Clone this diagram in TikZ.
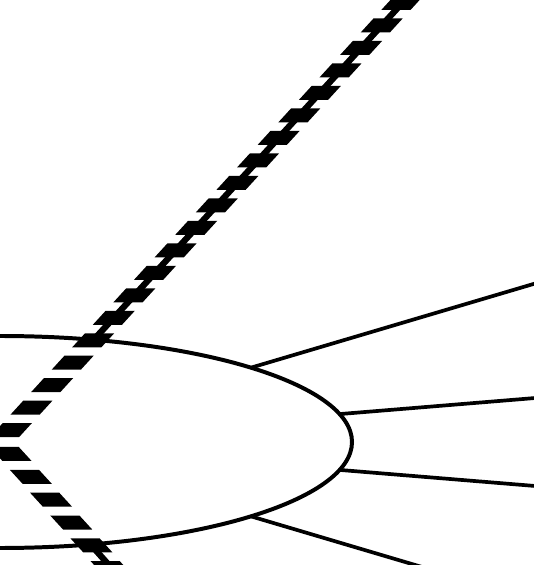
\documentclass[tikz,border=0pt]{standalone}
\usepackage{tikz}

\begin{document}
\begin{tikzpicture}[x=1pt,y=1pt]
	%%%%% START %%%%%
	
	\useasboundingbox (0,-123) rectangle (534,442);
	\clip (0,-123) rectangle (534,442);
	
	\draw[line width=1.4mm] (0,0) ellipse (352 and 106);
	
	\draw[line width=1.3mm] (16.5:261.7) -- (16.5:700);
	\draw[line width=1.3mm] (4.7:340.7) -- (4.7:700);
	\draw[line width=1.3mm] (-4.7:340.7) -- (-4.7:700);
	\draw[line width=1.3mm] (-16.5:261.7) -- (-16.5:700);
	
	\draw[line width=2.2mm] (47.5:138.6) -- (47.5:700);
	\draw[line width=2.2mm] (-48.5:136.8) -- (-48.5:700);
	
	\foreach \s in {16,46.5,...,640}
		\fill[shift={(47.5:\s)}] (-21,-7) -- (8.2,-7) -- (21,7) -- (-8.2,7) -- cycle;
	\foreach \s in {16,46.5,...,400}
		\fill[shift={(-48.5:\s)}] (-8.2,-7) -- (21,-7) -- (8.2,7) -- (-21,7) -- cycle;
	
	%%%%% END %%%%%
\end{tikzpicture}
\end{document}
